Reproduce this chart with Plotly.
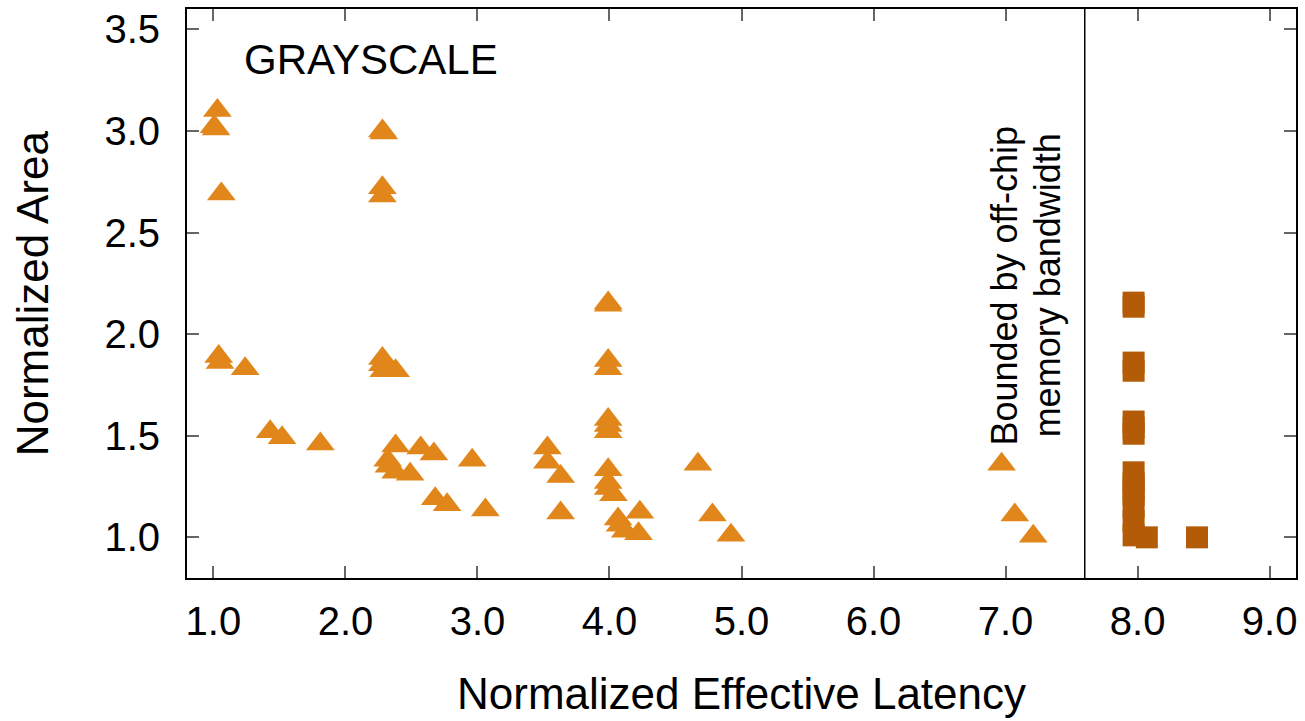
import plotly.graph_objects as go

# Triangles (design points)
tri_x = [1.03, 1.005, 1.02, 1.06, 2.28, 2.29, 2.28, 2.28,
         1.04, 1.05, 1.24, 2.28, 2.28, 2.29, 2.38,
         1.43, 1.52, 1.81, 2.38, 2.32, 2.33, 2.38, 2.49, 2.57, 2.67, 2.96,
         2.68, 2.77, 3.06,
         3.99, 3.99, 3.99, 3.99, 3.99, 3.99, 3.99, 3.53, 3.53, 3.63, 3.63,
         3.99, 3.99, 3.99, 4.03, 4.065, 4.08, 4.12, 4.23, 4.22,
         4.67, 4.78, 4.92, 6.97, 7.07, 7.21]
tri_y = [3.10, 3.02, 3.01, 2.69, 3.00, 2.99, 2.72, 2.68,
         1.89, 1.86, 1.83, 1.88, 1.85, 1.82, 1.82,
         1.52, 1.49, 1.46, 1.45, 1.38, 1.35, 1.32, 1.31, 1.44, 1.41, 1.38,
         1.19, 1.16, 1.135,
         2.153, 2.142, 1.87, 1.83, 1.58, 1.55, 1.52, 1.44, 1.37, 1.30, 1.12,
         1.333, 1.27, 1.24, 1.21, 1.09, 1.06, 1.03, 1.124, 1.018,
         1.36, 1.11, 1.01, 1.36, 1.11, 1.005]

# Squares (bandwidth-bound points)
sq_x = [7.97, 7.97, 7.97, 7.97, 7.97, 7.97, 7.97, 7.97, 7.97, 7.97, 7.97,
        7.97, 7.97, 7.97, 8.07, 8.45]
sq_y = [2.155, 2.135, 1.86, 1.82, 1.57, 1.54, 1.51, 1.32, 1.27, 1.24, 1.21,
        1.15, 1.08, 1.01, 1.0, 1.0]

x_ticks = [1, 2, 3, 4, 5, 6, 7, 8, 9]
x_tick_labels = ["1.0", "2.0", "3.0", "4.0", "5.0", "6.0", "7.0", "8.0", "9.0"]
y_ticks = [1.0, 1.5, 2.0, 2.5, 3.0, 3.5]
y_tick_labels = ["1.0", "1.5", "2.0", "2.5", "3.0", "3.5"]

FONT = "Liberation Sans, Arial, Helvetica, sans-serif"
ORANGE = "#E1861A"
DARK = "#B35B07"

fig = go.Figure()
fig.add_trace(go.Scatter(x=tri_x, y=tri_y, mode="markers",
                         marker=dict(symbol="triangle-up", size=25, color=ORANGE,
                                     line=dict(width=0)),
                         showlegend=False))
fig.add_trace(go.Scatter(x=sq_x, y=sq_y, mode="markers",
                         marker=dict(symbol="square", size=22, color=DARK,
                                     line=dict(width=0)),
                         showlegend=False))

fig.add_shape(type="line", xref="x", yref="paper", x0=7.6, x1=7.6, y0=0, y1=1,
              line=dict(color="black", width=1.5))

fig.add_annotation(x=2.19, y=3.35, xref="x", yref="y", text="GRAYSCALE",
                   showarrow=False, font=dict(family=FONT, size=42, color="black"),
                   xanchor="center", yanchor="middle")
fig.add_annotation(x=6.996, y=2.239, xref="x", yref="y",
                   text="Bounded by off-chip",
                   textangle=-90, showarrow=False,
                   font=dict(family=FONT, size=36, color="black"),
                   xanchor="center", yanchor="middle")
fig.add_annotation(x=7.32, y=2.239, xref="x", yref="y",
                   text="memory bandwidth",
                   textangle=-90, showarrow=False,
                   font=dict(family=FONT, size=36, color="black"),
                   xanchor="center", yanchor="middle")
fig.add_annotation(x=-0.139, y=0.5, xref="paper", yref="paper",
                   text="Normalized Area", textangle=-90, showarrow=False,
                   font=dict(family=FONT, size=44, color="black"),
                   xanchor="center", yanchor="middle")
fig.add_annotation(x=0.5, y=-0.2487, xref="paper", yref="paper",
                   text="Normalized Effective Latency", showarrow=False,
                   font=dict(family=FONT, size=44, color="black"),
                   xanchor="center", yanchor="bottom")

fig.update_xaxes(range=[0.8, 9.2], tickvals=x_ticks, ticktext=x_tick_labels,
                 ticks="inside", ticklen=12, tickwidth=1.5, tickcolor="#666666",
                 showline=True, linecolor="black", linewidth=2, mirror="ticks",
                 showgrid=False, zeroline=False,
                 tickfont=dict(family=FONT, size=40, color="black"),
                 ticklabelstandoff=7)
fig.update_yaxes(range=[0.8, 3.6], tickvals=y_ticks, ticktext=y_tick_labels,
                 ticks="inside", ticklen=12, tickwidth=1.5, tickcolor="#666666",
                 showline=True, linecolor="black", linewidth=2, mirror="ticks",
                 showgrid=False, zeroline=False,
                 tickfont=dict(family=FONT, size=40, color="black"),
                 ticklabelstandoff=17)

fig.update_layout(width=1305, height=721,
                  margin=dict(l=187, r=7, t=7, b=143),
                  plot_bgcolor="white", paper_bgcolor="white",
                  font=dict(family=FONT))

fig.write_html("out.html")
